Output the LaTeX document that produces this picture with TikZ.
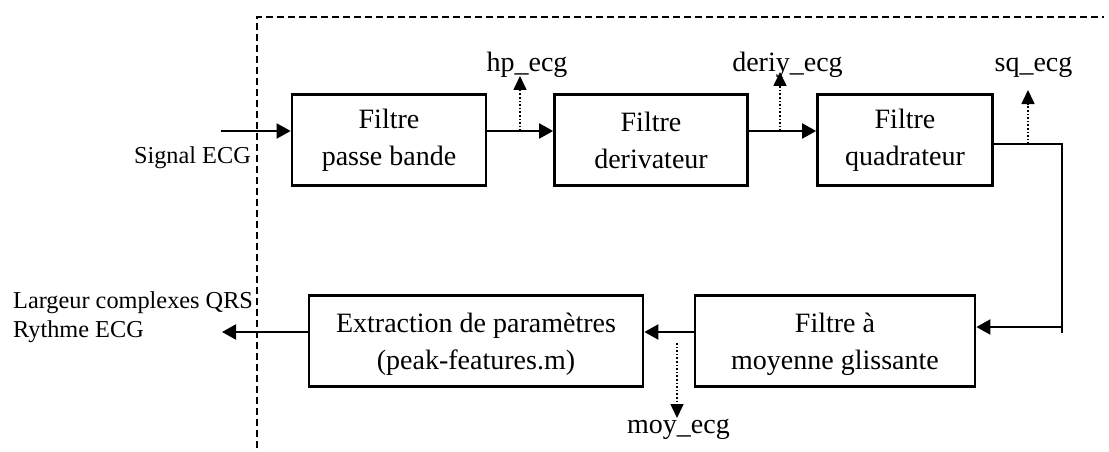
\documentclass[tikz,border=0pt]{standalone}
\usepackage{fontspec}
\setmainfont{Liberation Serif}
\usetikzlibrary{arrows.meta}
\tikzset{
  blockbox/.style={draw, line width=2.7pt, inner sep=0pt, align=center,
    font=\fontsize{28}{37}\selectfont},
  sig/.style={line width=2pt},
  arr/.style={sig, -{Triangle[length=14pt,width=15pt]}},
  dotarr/.style={line width=1.6pt, dotted, -{Triangle[length=14pt,width=13pt]}},
  lbl/.style={inner sep=0pt, font=\fontsize{28}{34}\selectfont},
  small/.style={inner sep=0pt, font=\fontsize{24.3}{29}\selectfont},
  frame/.style={line width=2.9pt, dash pattern=on 7pt off 4pt}
}
\begin{document}
\begin{tikzpicture}[x=1pt,y=-1pt]
\useasboundingbox (0,0) rectangle (1109,452);
% dashed frame
\coordinate (fc) at (257,17);
\coordinate (fr) at (1104,17);
\coordinate (fb) at (257,448);
\draw[frame] (fb) -- (fc) -- (fr);
% blocks
\node[blockbox, minimum width=194pt, minimum height=91pt] (b1) at (389,140) {Filtre\\passe bande};
\node[blockbox, minimum width=193pt, minimum height=91pt] (b2) at (651,140) {Filtre\\derivateur};
\node[blockbox, minimum width=175pt, minimum height=91pt] (b3) at (905,140) {Filtre\\quadrateur};
\node[blockbox, minimum width=334pt, minimum height=91pt, text depth=0pt] (b4) at (476,341) {Extraction de paramètres\\(peak-features.m)};
\node[blockbox, minimum width=280pt, minimum height=91pt, text depth=0pt] (b5) at (835,341) {Filtre à\\moyenne glissante};
% input
\coordinate (in) at (221,131);
\node[small, anchor=base east] (sigl) at (251,163) {Signal ECG};
\draw[arr] (in) -- (in -| b1.west);
\draw[arr] (b1.east |- in) -- (b2.west |- in);
\draw[arr] (b2.east |- in) -- (b3.west |- in);
% hp_ecg
\coordinate (hp) at (520,131);
\coordinate (hptip) at (520,76);
\node[lbl, anchor=base] (hpl) at (527,72) {hp\_ecg};
\draw[dotarr] (hp) -- (hptip);
% deriv_ecg
\coordinate (dv) at (780,131);
\coordinate (dvtip) at (780,72);
\node[lbl, anchor=base] (dvl) at (787.5,72) {deriy\_ecg};
\draw[dotarr] (dv) -- (dvtip);
% b3 output loop
\coordinate (c1) at (1062,144);
\coordinate (c2) at (1062,333);
\coordinate (c3) at (1062,327);
\draw[sig] (b3.east |- c1) -- (c1) -- (c2);
\draw[arr] (c3) -- (c3 -| b5.east);
% sq_ecg
\coordinate (sq) at (1028,144);
\coordinate (sqtip) at (1028,90);
\node[lbl, anchor=base] (sql) at (1033.5,72) {sq\_ecg};
\draw[dotarr] (sq) -- (sqtip);
% bottom
\coordinate (bl) at (693,332);
\draw[arr] (b5.west |- bl) -- (b4.east |- bl);
\coordinate (mo) at (677,343);
\coordinate (motip) at (677,418);
\node[lbl, anchor=base] (mol) at (678.5,433) {moy\_ecg};
\draw[dotarr] (mo) -- (motip);
% output
\coordinate (out) at (222,332);
\draw[arr] (b4.west |- out) -- (out);
\node[small, anchor=base west, align=left] (outl) at (13,337) {Largeur complexes QRS\\Rythme ECG};
\end{tikzpicture}
\end{document}
